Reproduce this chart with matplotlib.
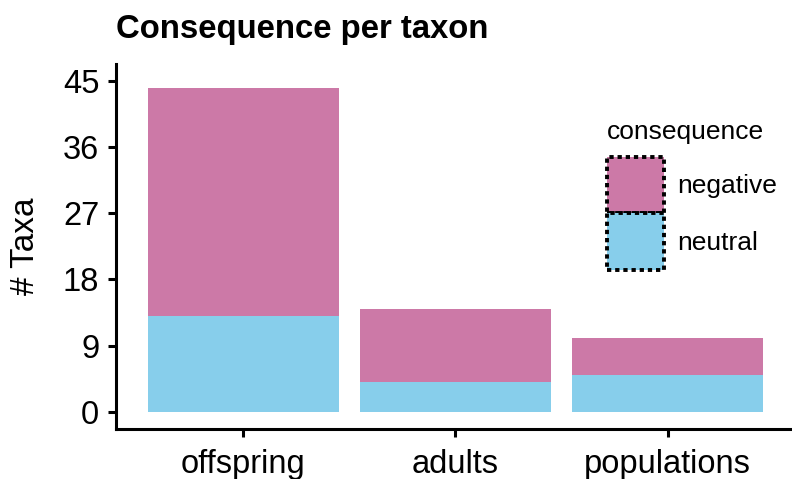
import matplotlib
matplotlib.use("Agg")
import matplotlib.pyplot as plt
from matplotlib.patches import Patch
import numpy as np

plt.rcParams['font.family'] = ['Liberation Sans', 'DejaVu Sans']

# Taxa counts per life stage
stages = ["offspring", "adults", "populations"]
neutral = [13, 4, 5]
negative = [31, 10, 5]
y_ticks = [0, 9, 18, 27, 36, 45]

col_negative = "#CC79A7"
col_neutral = "#87CEEB"

fig = plt.figure(figsize=(7.92, 4.79), dpi=100)
ax = fig.add_axes([0.1465, 0.1054, 0.857, 0.761])

x = np.arange(len(stages))
ax.bar(x, neutral, width=0.9, color=col_neutral, linewidth=0)
ax.bar(x, negative, width=0.9, bottom=neutral, color=col_negative, linewidth=0)

ax.set_xlim(-0.6, 2.6)
ax.set_ylim(-2.25, 47.25)
ax.set_xticks(x)
ax.set_xticklabels(stages)
ax.set_yticks(y_ticks)

for side in ["top", "right"]:
    ax.spines[side].set_visible(False)
for side in ["left", "bottom"]:
    ax.spines[side].set_linewidth(2.2)
    ax.spines[side].set_capstyle("projecting")

ax.tick_params(axis="both", width=2.2, length=6, labelsize=23.5, colors="black")
ax.tick_params(axis="y", pad=6)
ax.tick_params(axis="x", pad=9)

ax.set_ylabel("# Taxa", fontsize=24, labelpad=16)
ax.set_title("Consequence per taxon", loc="left", fontweight="bold",
             fontsize=23.7, pad=19)

dots = (0, (1.1, 1.0))
handles = [
    Patch(facecolor=col_negative, edgecolor="black", linestyle=dots, linewidth=2.8),
    Patch(facecolor=col_neutral, edgecolor="black", linestyle=dots, linewidth=2.8),
]
leg = ax.legend(handles, ["negative", "neutral"], title="consequence",
                loc="upper left", bbox_to_anchor=(607 / 792, 1 - 120 / 479),
                bbox_transform=fig.transFigure, frameon=False,
                fontsize=19, title_fontsize=19, handlelength=2.16,
                handleheight=2.945, labelspacing=0, handletextpad=0.5,
                borderpad=0, borderaxespad=0, alignment="left")
leg._legend_box.sep = 9

fig.savefig("out.png", dpi=100)
